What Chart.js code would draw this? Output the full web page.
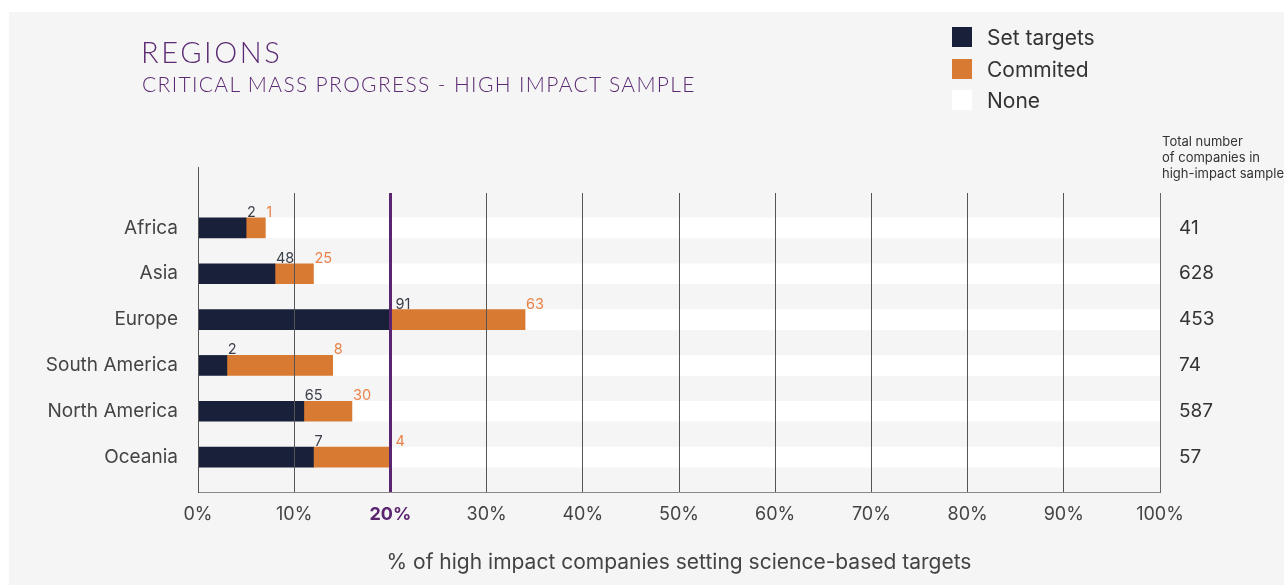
<!DOCTYPE html>
<html><head><meta charset="utf-8">
<script src="https://cdn.jsdelivr.net/npm/chart.js@4.4.1/dist/chart.umd.min.js"></script>
<style>
html,body{margin:0;padding:0;background:#fff;width:1284px;height:585px;overflow:hidden;}
#panel{position:absolute;left:9px;top:12px;right:0;bottom:0;background:#f5f5f5;}
#wrap{position:absolute;left:0;top:0;width:1284px;height:585px;}
.t{position:absolute;white-space:nowrap;}
#title{left:141px;top:34px;font:300 29px Lato, sans-serif;color:#5c2a73;letter-spacing:2.6px;}
#subtitle{left:142px;top:71px;font:300 21px Lato, sans-serif;color:#5c2a73;letter-spacing:1.35px;}
#legend{position:absolute;left:952px;top:27px;}
.li{position:relative;height:31.5px;}
.sw{position:absolute;left:0;top:0;width:20px;height:20px;}
.lt{position:absolute;left:35px;top:-2px;font:400 21px Inter, sans-serif;color:#333;white-space:nowrap;}
#total{left:1162px;top:133px;font:400 13px Inter, sans-serif;color:#333;line-height:16px;}
</style></head>
<body>
<div id="panel"></div>
<div id="wrap"><canvas id="c" width="1284" height="585"></canvas></div>
<div class="t" id="title">REGIONS</div>
<div class="t" id="subtitle">CRITICAL MASS PROGRESS - HIGH IMPACT SAMPLE</div>
<div id="legend"></div>
<div class="t" id="total">Total number<br>of companies in<br>high-impact sample</div>
<script>
const categories = ['Africa', 'Asia', 'Europe', 'South America', 'North America', 'Oceania'];
const setTargetsPct = [5.0, 8.0, 20.0, 3.0, 11.0, 12.0];
const commitedPct = [2.0, 4.0, 14.0, 11.0, 5.0, 8.0];
const nonePct = [93.0, 88.0, 66.0, 86.0, 84.0, 80.0];
const setTargetsCount = [2, 48, 91, 2, 65, 7];
const commitedCount = [1, 25, 63, 8, 30, 4];
const totalCompanies = [41, 628, 453, 74, 587, 57];
const xTickValues = [0, 10, 20, 30, 40, 50, 60, 70, 80, 90, 100];
const seriesNames = ['Set targets', 'Commited', 'None'];
const seriesColors = ['#19203a', '#d87a32', '#ffffff'];
const labelColors = ['#3a3f4a', '#e8834a'];
const countArrays = [setTargetsCount, commitedCount];
const highlightTick = 20;
const FONT = 'Inter, sans-serif';

// legend
const lg = document.getElementById('legend');
seriesNames.forEach((n, i) => {
  const d = document.createElement('div'); d.className = 'li';
  d.innerHTML = '<div class="sw" style="background:' + seriesColors[i] + '"></div><div class="lt">' + n + '</div>';
  lg.appendChild(d);
});

function pts(arr) { return arr.map((v, i) => ({x: v, y: i})); }

const valueLabels = {
  id: 'valueLabels',
  afterDraw(chart) {
    const ctx = chart.ctx;
    const x20 = chart.scales.x.getPixelForValue(highlightTick);
    ctx.save();
    ctx.font = '400 14.5px ' + FONT;
    ctx.textAlign = 'left';
    ctx.textBaseline = 'alphabetic';
    [0, 1].forEach(di => {
      const meta = chart.getDatasetMeta(di);
      meta.data.forEach((el, i) => {
        let x = el.x + 1;
        if (Math.abs(el.x - x20) < 4) x = x20 + 5;
        const y = el.y - el.height / 2 - 1;
        ctx.fillStyle = labelColors[di];
        ctx.fillText(String(countArrays[di][i]), x, y);
      });
    });
    ctx.restore();
  }
};
const axisExtend = {
  id: 'axisExtend',
  afterDraw(chart) {
    const ctx = chart.ctx, y = chart.scales.y, a = chart.chartArea;
    const x = Math.round(y.right) + 0.5;
    ctx.save();
    ctx.strokeStyle = '#555'; ctx.lineWidth = 1;
    ctx.beginPath(); ctx.moveTo(x, a.top - 26); ctx.lineTo(x, a.top); ctx.stroke();
    ctx.restore();
  }
};

const catTicks = (scale) => { scale.ticks = categories.map((c, i) => ({value: i})); };

new Chart(document.getElementById('c'), {
  type: 'bar',
  data: {
    datasets: [
      {label: seriesNames[0], data: pts(setTargetsPct), backgroundColor: seriesColors[0]},
      {label: seriesNames[1], data: pts(commitedPct), backgroundColor: seriesColors[1]},
      {label: seriesNames[2], data: pts(nonePct), backgroundColor: seriesColors[2]}
    ]
  },
  options: {
    indexAxis: 'y',
    responsive: false,
    animation: false,
    barThickness: 20,
    layout: {padding: {top: 193, left: 0, right: 0, bottom: 0}},
    plugins: {legend: {display: false}, tooltip: {enabled: false}},
    scales: {
      x: {
        type: 'linear', min: 0, max: 100, stacked: true, position: 'bottom',
        afterBuildTicks: (s) => { s.ticks = xTickValues.map(v => ({value: v})); },
        afterFit: (s) => { s.height = 93; },
        ticks: {
          callback: (v) => v + '%',
          padding: 12,
          font: (c) => ({family: FONT, size: 18, weight: c.tick && c.tick.value === highlightTick ? '700' : '400'}),
          color: (c) => c.tick && c.tick.value === highlightTick ? '#5b2470' : '#444'
        },
        grid: {
          z: 1,
          drawTicks: false,
          color: (c) => c.tick && c.tick.value === highlightTick ? '#5b2470' : '#555',
          lineWidth: (c) => c.tick && c.tick.value === highlightTick ? 3 : 1
        },
        border: {display: true, color: '#888', width: 1, z: 1},
        title: {display: true, text: '% of high impact companies setting science-based targets',
          font: {family: FONT, size: 21}, color: '#444', padding: {top: 0, bottom: 10}}
      },
      y: {
        type: 'linear', reverse: true, min: -0.76, max: 5.76, stacked: true, position: 'left', offset: false,
        afterBuildTicks: catTicks,
        afterFit: (s) => { s.width = 198; },
        ticks: {callback: (v) => categories[v], padding: 20, font: {family: FONT, size: 19}, color: '#444'},
        grid: {display: false, drawTicks: false, offset: false},
        border: {display: true, color: '#555', width: 1, z: 1}
      },
      y2: {
        axis: 'y', type: 'linear', reverse: true, min: -0.76, max: 5.76, position: 'right', offset: false,
        afterBuildTicks: catTicks,
        afterFit: (s) => { s.width = 124; },
        ticks: {callback: (v) => String(totalCompanies[v]), padding: 19, font: {family: FONT, size: 19}, color: '#333'},
        grid: {display: false, drawTicks: false, offset: false},
        border: {display: true, color: '#666', width: 1, z: 1}
      }
    }
  },
  plugins: [valueLabels, axisExtend]
});
</script>
</body></html>
